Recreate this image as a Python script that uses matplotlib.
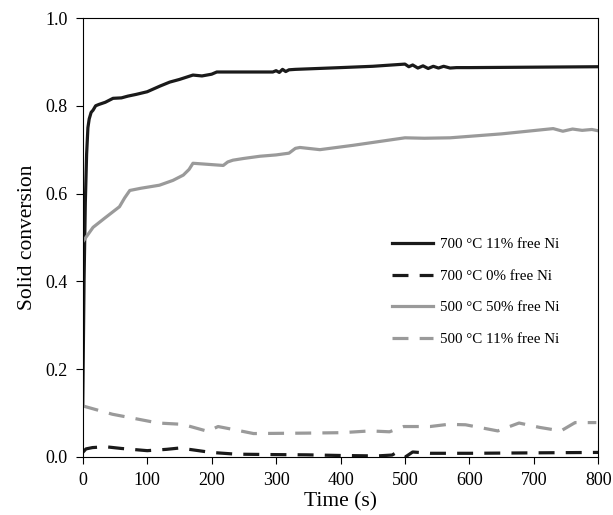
import numpy as np
import matplotlib
matplotlib.use("Agg")
import matplotlib.pyplot as plt

matplotlib.rcParams['font.family'] = 'Liberation Serif'
tick_size = 13
label_size = 15.5

# 700 C 11% free Ni (solid black)
t_700_11 = [0, 2, 4, 6, 8, 10, 13, 16, 20, 25, 35, 47, 60, 70, 83, 100, 120, 135, 150,
            171, 185, 200, 208, 250, 295, 300, 305, 310, 315, 320, 330, 400, 450, 500, 506,
            512, 520, 528, 536, 544, 552, 560, 570, 580, 600, 700, 800]
x_700_11 = [0.118, 0.40, 0.58, 0.69, 0.75, 0.77, 0.785, 0.79, 0.80, 0.803, 0.808, 0.817,
            0.818, 0.822, 0.826, 0.832, 0.845, 0.854, 0.86, 0.87, 0.868, 0.872, 0.877, 0.877,
            0.877, 0.880, 0.876, 0.883, 0.878, 0.882, 0.883, 0.887, 0.890, 0.895, 0.889,
            0.893, 0.886, 0.891, 0.885, 0.890, 0.886, 0.890, 0.886, 0.887, 0.887, 0.888, 0.889]

# 700 C 0% free Ni (dashed black)
t_700_0 = [0, 5, 15, 35, 60, 100, 130, 150, 170, 199, 238, 300, 347, 400, 457, 480, 487,
           493, 501, 512, 539, 600, 700, 800]
x_700_0 = [0.010, 0.018, 0.021, 0.023, 0.019, 0.014, 0.017, 0.020, 0.016, 0.010, 0.006,
           0.005, 0.0045, 0.003, 0.002, 0.004, 0.010, 0.004, 0.000, 0.011, 0.008, 0.008,
           0.009, 0.010]

# 500 C 50% free Ni (solid gray)
t_500_50 = [0, 16, 35, 57, 65, 73, 90, 119, 140, 156, 165, 171, 190, 218, 225, 233, 250,
            275, 300, 320, 330, 337, 368, 420, 481, 500, 530, 570, 650, 730, 745, 760, 775,
            790, 800]
x_500_50 = [0.490, 0.523, 0.545, 0.570, 0.590, 0.607, 0.612, 0.619, 0.630, 0.642, 0.655,
            0.669, 0.667, 0.664, 0.672, 0.676, 0.680, 0.685, 0.688, 0.692, 0.703, 0.705, 0.700,
            0.710, 0.723, 0.727, 0.726, 0.727, 0.736, 0.748, 0.742, 0.747, 0.744, 0.746,
            0.743]

# 500 C 11% free Ni (dashed gray)
t_500_11 = [0, 46, 117, 155, 194, 210, 238, 265, 347, 402, 446, 476, 498, 539, 567, 594,
            644, 677, 709, 742, 764, 797]
x_500_11 = [0.116, 0.097, 0.077, 0.074, 0.058, 0.069, 0.061, 0.053, 0.054, 0.055, 0.059,
            0.057, 0.069, 0.069, 0.074, 0.073, 0.059, 0.077, 0.067, 0.059, 0.078, 0.078]

labels = ["700 °C 11% free Ni", "700 °C 0% free Ni", "500 °C 50% free Ni", "500 °C 11% free Ni"]

black = "#1a1a1a"
gray = "#9a9a9a"
lw = 2.3
dash = (5, 3.5)

fig = plt.figure(figsize=(6.13, 5.15), dpi=100)
ax = fig.add_axes([0.135, 0.113, 0.841, 0.852])

ax.plot(t_700_11, x_700_11, color=black, lw=lw, label=labels[0])
ax.plot(t_700_0, x_700_0, color=black, lw=lw, dashes=dash, label=labels[1])
ax.plot(t_500_50, x_500_50, color=gray, lw=lw, label=labels[2])
ax.plot(t_500_11, x_500_11, color=gray, lw=lw, dashes=dash, label=labels[3])

ax.set_xlim(0, 800)
ax.set_ylim(0, 1.0)
ax.set_xticks(np.arange(0, 801, 100))
ax.set_yticks(np.arange(0, 1.01, 0.2))
ax.set_yticklabels(["0.0", "0.2", "0.4", "0.6", "0.8", "1.0"])
ax.tick_params(direction='out', length=5, pad=6, labelsize=tick_size, top=False, right=False)

ax.set_xlabel("Time (s)", fontsize=label_size, labelpad=2)
ax.set_ylabel("Solid conversion", fontsize=label_size, labelpad=6)

ax.legend(loc="center left", bbox_to_anchor=(0.60, 0.376), frameon=False,
          borderaxespad=0, borderpad=0,
          prop={'size': 10.8}, labelspacing=1.2, handlelength=2.7, handletextpad=0.5)

plt.savefig("out.png", dpi=100)
